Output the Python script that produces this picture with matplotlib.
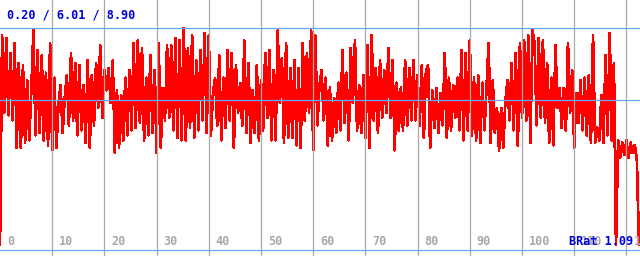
import matplotlib
matplotlib.use("Agg")
import matplotlib.pyplot as plt
import numpy as np

# Sample interval (x units per sample)
SAMPLE_STEP = 0.4

# Stats shown in the header line
STAT_MIN = 0.20
STAT_AVG = 6.01
STAT_MAX = 8.90
BRAT = 1.09

# Values, left to right
values_0_20 = [
    0.20, 8.6, 5.5, 8.5, 5.4, 7.9, 5.2, 8.3, 4.1, 7.5,
    4.1, 7.4, 4.3, 6.8, 4.4, 6.4, 8.8, 4.6, 8.0, 4.7,
    7.8, 4.4, 7.1, 4.2, 8.3, 4.0, 6.9, 4.1, 5.8, 6.6,
    4.7, 6.1, 7.0, 5.0, 7.9, 5.2, 7.5, 4.6, 7.4, 4.8,
    6.6, 4.3, 7.6, 4.1, 7.0, 5.0, 7.5, 5.7, 8.2, 5.3,
    7.2, 6.4,
]
values_20_41 = [
    7.3, 5.9, 7.6, 3.9, 6.4, 4.1, 6.2, 4.4, 6.9, 4.6,
    7.2, 4.8, 8.3, 4.9, 8.4, 5.1, 8.1, 4.4, 6.9, 4.6,
    7.8, 4.7, 7.2, 3.9, 8.3, 4.1, 6.5, 5.2, 8.2, 5.3,
    8.2, 4.8, 8.5, 4.5, 8.4, 4.4, 8.9, 4.4, 8.1, 4.9,
    8.6, 4.5, 7.6, 4.8, 8.0, 5.2, 8.7, 4.7, 8.6, 4.6,
    6.3,
]
values_41_61 = [
    6.9, 5.0, 7.8, 4.4, 6.9, 4.9, 8.0, 5.2, 7.9, 4.1,
    7.4, 5.5, 6.7, 5.0, 8.4, 4.7, 7.5, 4.3, 6.4, 4.7,
    7.4, 4.4, 6.8, 4.8, 7.9, 5.3, 8.0, 4.4, 7.2, 4.4,
    8.8, 5.9, 7.7, 4.3, 8.3, 4.5, 7.3, 4.5, 7.6, 4.2,
    7.3, 4.1, 8.3, 5.2, 7.9, 5.5, 8.8, 4.0, 8.6, 5.0,
    6.6,
]
values_61_82 = [
    7.2, 5.2, 6.9, 4.2, 6.5, 4.4, 6.1, 4.7, 6.7, 4.8,
    8.0, 5.1, 7.1, 4.4, 8.1, 5.9, 8.4, 4.8, 6.6, 4.7,
    7.0, 4.5, 8.2, 4.1, 8.6, 5.2, 7.3, 4.7, 7.6, 5.3,
    7.2, 5.5, 8.1, 5.3, 7.6, 4.0, 6.7, 4.8, 6.5, 4.8,
    7.6, 5.0, 7.3, 5.2, 7.6, 5.2, 7.0, 5.0, 7.4, 4.5,
    7.2,
]
values_82_102 = [
    7.4, 4.1, 6.4, 4.9, 6.5, 4.7, 6.3, 5.0, 7.9, 4.5,
    6.9, 4.8, 6.6, 5.3, 6.9, 4.8, 8.0, 4.4, 7.9, 4.8,
    8.4, 4.6, 6.9, 4.4, 7.0, 4.3, 6.7, 4.8, 6.5, 8.3,
    4.3, 6.8, 4.7, 5.7, 4.0, 5.7, 4.1, 5.9, 6.8, 5.2,
    7.5, 4.8, 7.9, 4.2, 8.3, 5.3, 8.4, 5.2, 8.6, 4.3,
    8.8,
]
values_102_123 = [
    8.3, 5.0, 8.5, 5.3, 8.4, 5.1, 7.5, 4.3, 6.9, 4.2,
    8.2, 5.7, 6.5, 4.9, 6.5, 4.8, 8.3, 5.5, 7.2, 4.1,
    6.3, 5.1, 6.8, 4.8, 6.9, 4.6, 7.0, 4.3, 8.6, 4.3,
    4.9, 4.4, 6.2, 4.3, 7.8, 4.6, 8.7, 4.4, 7.5, 0.2,
    4.4, 3.7, 4.3, 3.8, 4.4, 3.7, 4.3, 3.9, 4.2, 3.6,
    0.2,
]

x_ticks = [0, 10, 20, 30, 40, 50, 60, 70, 80, 90, 100, 110, 120]

RED = "#ff0000"
BLUE_TEXT = "#0000dd"
BLUE_GRID = "#66aaff"
GRAY_GRID = "#aaaaaa"
GRAY_TEXT = "#a8a8a8"
FONT = "DejaVu Sans Mono"


def plot_signal(ax, values):
    xs = np.arange(len(values)) * SAMPLE_STEP
    ax.plot(xs, values, color=RED, linewidth=1.25, antialiased=False, zorder=2)


def draw_grid(ax):
    #? vertical lines every 10, horizontal at zero / avg / max
    for t in x_ticks[1:]:
        ax.axvline(t, color=GRAY_GRID, linewidth=0.9, zorder=3)
    for h in (0, STAT_AVG, STAT_MAX):
        ax.axhline(h, color=BLUE_GRID, linewidth=0.9, zorder=3)


def draw_labels(ax):
    for t in x_ticks:
        ax.text(t + 1.35, 0.36, str(t), color=GRAY_TEXT, fontsize=8.5,
                family=FONT, weight="bold", va="center", ha="left", zorder=4)
    ax.text(1.34, 9.42, f"{STAT_MIN:.2f} / {STAT_AVG:.2f} / {STAT_MAX:.2f}",
            color=BLUE_TEXT, fontsize=8.5, family=FONT, weight="bold",
            va="center", ha="left", zorder=5)
    ax.text(109.0, 0.36, f"BRat {BRAT:.2f}", color=BLUE_TEXT, fontsize=8.5,
            family=FONT, weight="bold", va="center", ha="left", zorder=5)


values = (values_0_20 + values_20_41 + values_41_61 +
          values_61_82 + values_82_102 + values_102_123)

fig = plt.figure(figsize=(6.4, 2.56), dpi=100)
ax = fig.add_axes([0, 0, 1, 1])
ax.set_xlim(0, 122.6)
ax.set_ylim(-0.24, 10.02)
ax.axis("off")

plot_signal(ax, values)
draw_grid(ax)
draw_labels(ax)

fig.savefig("out.png", dpi=100, facecolor="white")
